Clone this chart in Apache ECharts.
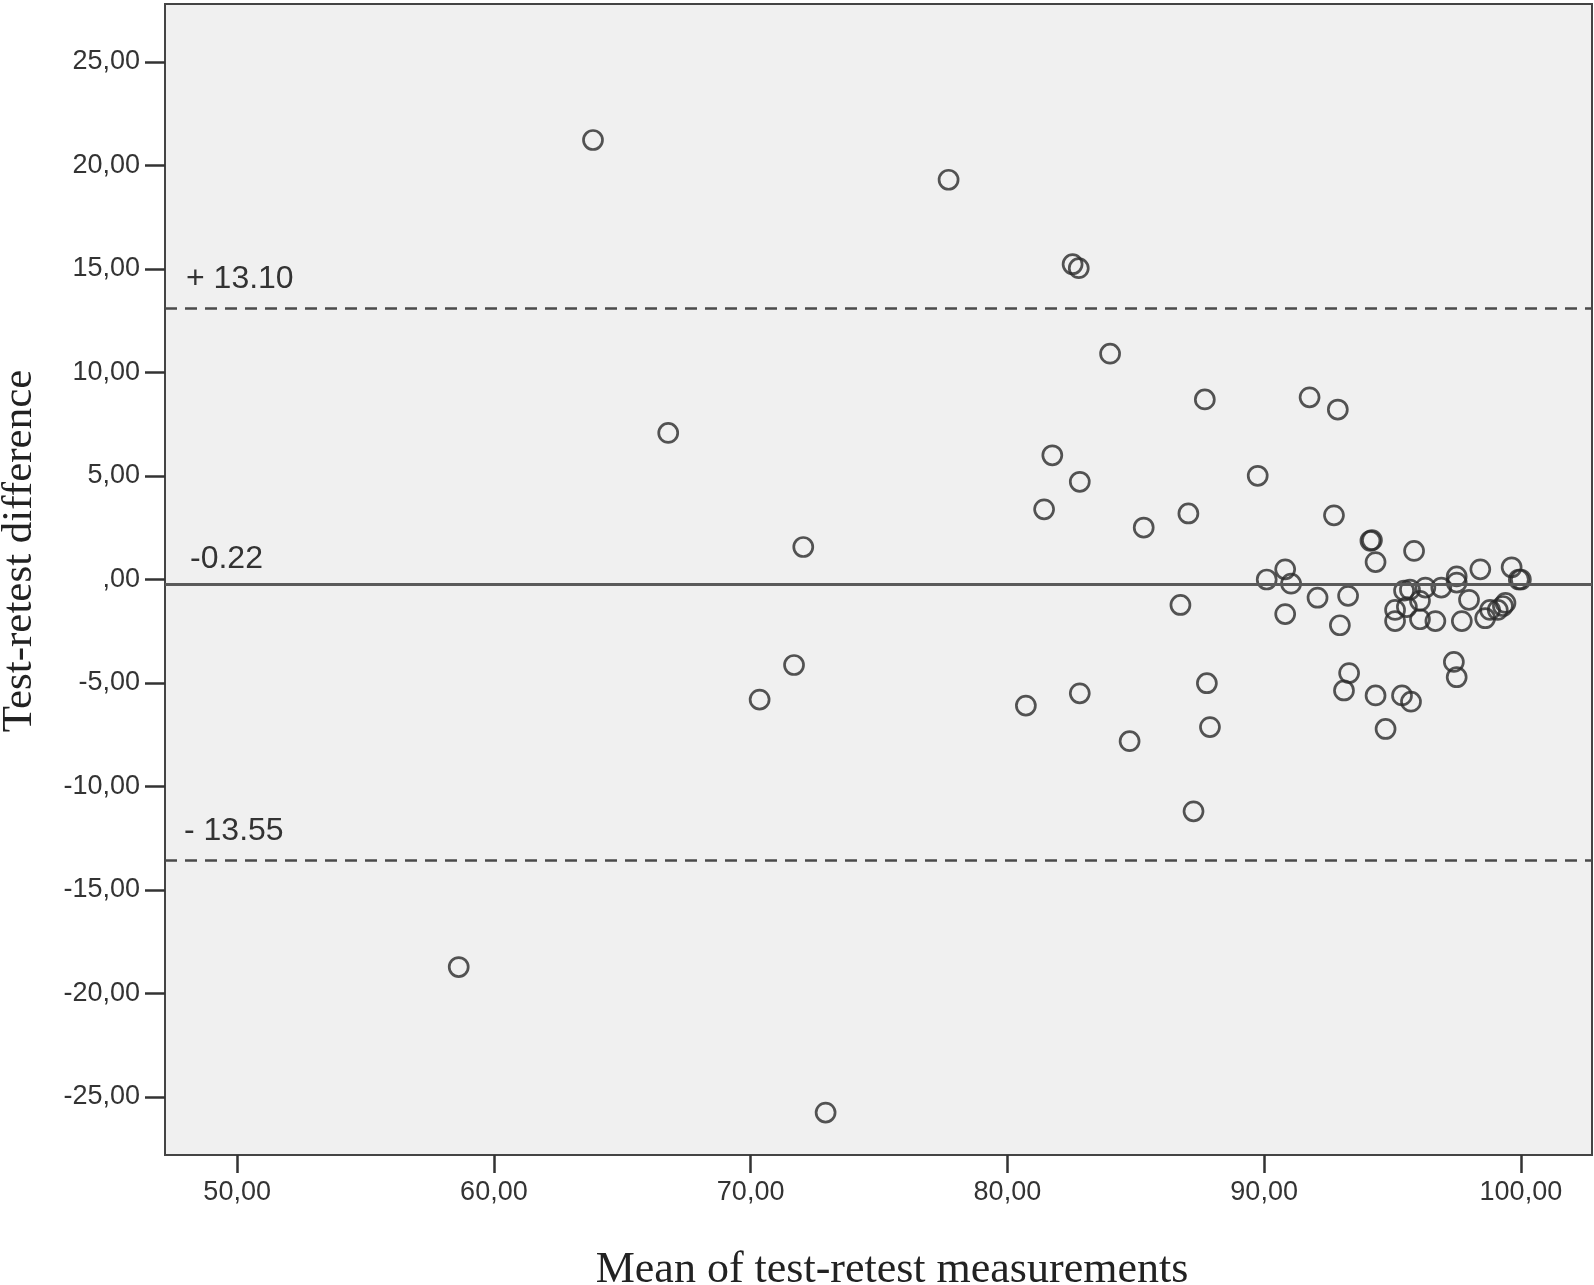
<!DOCTYPE html>
<html>
<head>
<meta charset="utf-8">
<script src="https://cdn.jsdelivr.net/npm/echarts@6/dist/echarts.min.js"></script>
<style>
html,body{margin:0;padding:0;background:#fff;}
#chart{width:1594px;height:1285px;}
</style>
</head>
<body>
<div id="chart"></div>
<script>
// Mean of test-retest measurements (x) and test-retest difference (y)
var meanValues = [63.86, 77.71, 82.54, 82.78, 84.0, 87.69, 91.77, 92.87, 66.79, 81.75,
  89.75, 82.82, 81.43, 87.05, 92.72, 85.31, 94.14, 94.2, 72.05, 94.34,
  95.84, 90.82, 98.42, 99.64, 90.1, 91.05, 97.5, 97.5, 99.92, 100.0,
  92.08, 93.27, 95.45, 95.68, 96.28, 96.9, 86.74, 90.82, 95.1, 95.56,
  96.07, 97.98, 95.1, 96.07, 96.67, 97.7, 98.61, 98.8, 99.1, 99.3,
  99.4, 92.95, 97.39, 97.5, 93.31, 93.11, 94.34, 95.37, 95.72, 94.73,
  87.77, 87.89, 82.82, 80.72, 84.76, 87.25, 71.69, 70.35, 58.63, 72.92];
var diffValues = [21.23, 19.31, 15.23, 15.04, 10.91, 8.70, 8.80, 8.21, 7.08, 6.0,
  5.01, 4.72, 3.39, 3.19, 3.10, 2.51, 1.87, 1.9, 1.57, 0.84,
  1.38, 0.49, 0.49, 0.59, 0.0, -0.2, 0.15, -0.15, 0.0, 0.0,
  -0.88, -0.79, -0.54, -0.49, -0.39, -0.39, -1.23, -1.67, -1.47, -1.33,
  -1.03, -0.98, -2.01, -1.92, -2.01, -2.01, -1.87, -1.47, -1.47, -1.28,
  -1.13, -2.21, -3.98, -4.72, -4.52, -5.36, -5.6, -5.6, -5.9, -7.22,
  -5.01, -7.13, -5.5, -6.09, -7.81, -11.2, -4.13, -5.8, -18.72, -25.75];
var xTicks = [50, 60, 70, 80, 90, 100];
var yTicks = [-25, -20, -15, -10, -5, 0, 5, 10, 15, 20, 25];
var upperLoA = 13.10, meanDiff = -0.22, lowerLoA = -13.55;
var upperLabel = '+ 13.10', meanLabel = '-0.22', lowerLabel = '- 13.55';
var xTitle = 'Mean of test-retest measurements';
var yTitle = 'Test-retest difference';

function fmt(v){
  if (v === 0) return ',00';
  return v.toFixed(2).replace('.', ',');
}

var points = meanValues.map(function(x, i){ return [x, diffValues[i]]; });

var chart = echarts.init(document.getElementById('chart'), null, {renderer:'canvas'});
var tickFont = {fontFamily:'Liberation Sans', fontSize:27, color:'#333'};
var refLabel = function(txt, dx, dy){
  return {show:true, position:'insideStartTop', formatter:txt, distance:[dx, dy],
    fontFamily:'Liberation Sans', fontSize:32, color:'#333'};
};
chart.setOption({
  animation:false,
  backgroundColor:'#ffffff',
  grid:{left:165, right:2, top:4, bottom:130, show:true, backgroundColor:'#f0f0f0',
    borderColor:'#444', borderWidth:2},
  xAxis:{type:'value', min:47.19, max:102.77,
    axisLine:{show:true, onZero:false, lineStyle:{color:'#444', width:2}},
    axisTick:{show:true, length:18, customValues:xTicks, lineStyle:{color:'#333', width:2.5}},
    axisLabel:Object.assign({show:true, margin:24, customValues:xTicks, formatter:fmt}, tickFont),
    splitLine:{show:false}},
  yAxis:{type:'value', min:-27.8, max:27.8,
    axisLine:{show:true, onZero:false, lineStyle:{color:'#444', width:2}},
    axisTick:{show:true, length:20, customValues:yTicks, lineStyle:{color:'#333', width:2.5}},
    axisLabel:Object.assign({show:true, margin:25, customValues:yTicks, formatter:fmt}, tickFont),
    splitLine:{show:false}},
  graphic:[
    {type:'text', x:892, y:1270, style:{text:xTitle, font:'44px "Liberation Serif"', fill:'#222',
      textAlign:'center', textVerticalAlign:'middle'}},
    {type:'text', x:20, y:551, rotation:Math.PI/2, style:{text:yTitle, font:'43px "Liberation Serif"', fill:'#222',
      textAlign:'center', textVerticalAlign:'middle'}}
  ],
  series:[{
    type:'scatter', data:points, symbol:'circle', symbolSize:19,
    itemStyle:{color:'rgba(0,0,0,0)', borderColor:'#2a2a2a', borderWidth:2.7},
    emphasis:{disabled:true},
    markLine:{silent:true, symbol:['none','none'], animation:false,
      data:[
        {yAxis:upperLoA, lineStyle:{type:[12,8], color:'#4a4a4a', width:2.5}, label:refLabel(upperLabel, 21, 13)},
        {yAxis:meanDiff, lineStyle:{type:'solid', color:'#5a5a5a', width:3}, label:refLabel(meanLabel, 25, 9)},
        {yAxis:lowerLoA, lineStyle:{type:[12,8], color:'#4a4a4a', width:2.5}, label:refLabel(lowerLabel, 19, 13)}
      ]}
  }]
});
</script>
</body>
</html>
